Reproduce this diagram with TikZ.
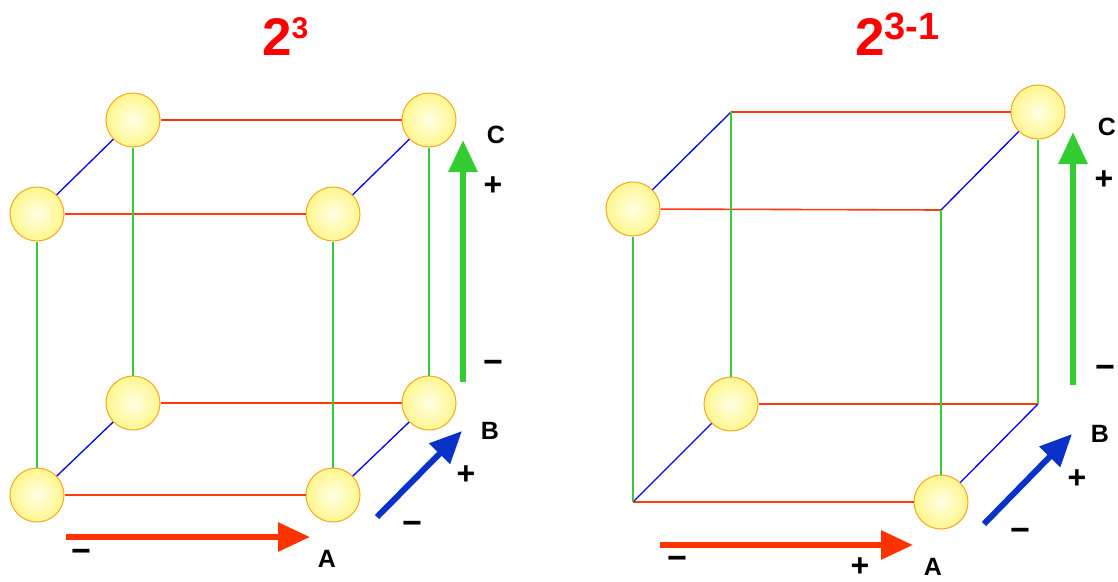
\documentclass[tikz,border=0pt]{standalone}
\usepackage{fontspec}
\setmainfont{Liberation Sans}
\usetikzlibrary{arrows.meta}
\definecolor{edgeA}{HTML}{FF3A10}
\definecolor{edgeB}{HTML}{0000F0}
\definecolor{edgeC}{HTML}{3CC83C}
\definecolor{arrowA}{HTML}{FF3300}
\definecolor{arrowB}{HTML}{0A32C8}
\definecolor{arrowC}{HTML}{33CC33}
\definecolor{ballrim}{HTML}{F5A623}
\definecolor{ballin}{HTML}{FFFFE6}
\definecolor{ballout}{HTML}{FFF68C}
\definecolor{titlered}{HTML}{FF0000}

\begin{document}
\begin{tikzpicture}[
  x=1pt, y=-1pt,
  ball/.style={circle, minimum size=54pt, inner sep=0pt, draw=ballrim,
               line width=1pt, inner color=ballin, outer color=ballout},
  lineA/.style={draw=edgeA, line width=1.6pt},
  lineB/.style={draw=edgeB, line width=1.3pt},
  lineC/.style={draw=edgeC, line width=1.3pt},
  bigarrow/.style={line width=6pt, -{Triangle[length=32pt, width=28pt]}},
  axis/.style={font=\fontsize{25}{25}\selectfont\bfseries, inner sep=0pt},
  sign/.style={font=\fontsize{32}{32}\selectfont\bfseries, inner sep=0pt},
  minus/.style={font=\fontsize{34}{34}\selectfont\bfseries, inner sep=0pt},
  title/.style={font=\fontsize{53}{53}\selectfont\bfseries, text=titlered,
                inner sep=0pt, anchor=base west},
]
\useasboundingbox (0,0) rectangle (1118,581);

% Titles
\node[title] (t1) at (262,55) {2\raisebox{17pt}{\fontsize{30}{30}\selectfont 3}};
\node[title] (t2) at (855,55) {2\raisebox{16pt}{\fontsize{38}{38}\selectfont 3-1}};

% Left cube: full factorial, a ball on every corner
\node[ball] (Lbtl) at (133,120) {};
\node[ball] (Lbtr) at (429,120) {};
\node[ball] (Lftl) at (37,214) {};
\node[ball] (Lftr) at (333,214) {};
\node[ball] (Lbbl) at (133,403) {};
\node[ball] (Lbbr) at (429,403) {};
\node[ball] (Lfbl) at (37,495) {};
\node[ball] (Lfbr) at (333,495) {};

% Right cube: half fraction, four balls
\coordinate (Rbtl) at (731,112);
\node[ball] (Rbtr) at (1038,112) {};
\node[ball] (Rftl) at (633,209) {};
\coordinate (Rftr) at (941,210);
\node[ball] (Rbbl) at (731,404) {};
\coordinate (Rbbr) at (1038,404);
\coordinate (Rfbl) at (633,502);
\node[ball] (Rfbr) at (941,502) {};

% Edges of both cubes
\foreach \s in {L,R} {
  \draw[lineA] (\s btl) -- (\s btr);
  \draw[lineA] (\s ftl) -- (\s ftr);
  \draw[lineA] (\s bbl) -- (\s bbr);
  \draw[lineA] (\s fbl) -- (\s fbr);
  \draw[lineB] (\s ftl) -- (\s btl);
  \draw[lineB] (\s ftr) -- (\s btr);
  \draw[lineB] (\s fbl) -- (\s bbl);
  \draw[lineB] (\s fbr) -- (\s bbr);
  \draw[lineC] (\s btl) -- (\s bbl);
  \draw[lineC] (\s btr) -- (\s bbr);
  \draw[lineC] (\s ftl) -- (\s fbl);
  \draw[lineC] (\s ftr) -- (\s fbr);
}

% Factor arrows, left
\coordinate (LAs) at (66,537);  \coordinate (LAe) at (310,537);
\coordinate (LBs) at (377,517); \coordinate (LBe) at (462,431);
\coordinate (LCs) at (463,382); \coordinate (LCe) at (463,140);
\draw[bigarrow, arrowA] (LAs) -- (LAe);
\draw[bigarrow, arrowB] (LBs) -- (LBe);
\draw[bigarrow, arrowC] (LCs) -- (LCe);

\node[axis] (LA) at (327,559) {A};
\node[minus] (LAm) at (81,556) {−};
\node[axis] (LB) at (490,431) {B};
\node[sign] (LBp) at (466,475) {+};
\node[minus] (LBm) at (412,528) {−};
\node[axis] (LC) at (496,135) {C};
\node[sign] (LCp) at (493,186) {+};
\node[minus] (LCm) at (493,367) {−};

% Factor arrows, right
\coordinate (RAs) at (660,545);  \coordinate (RAe) at (913,545);
\coordinate (RBs) at (984,524);  \coordinate (RBe) at (1072,434);
\coordinate (RCs) at (1073,385); \coordinate (RCe) at (1073,132);
\draw[bigarrow, arrowA] (RAs) -- (RAe);
\draw[bigarrow, arrowB] (RBs) -- (RBe);
\draw[bigarrow, arrowC] (RCs) -- (RCe);

\node[axis] (RA) at (933,567) {A};
\node[minus] (RAm) at (677,563) {−};
\node[sign] (RAp) at (860,567) {+};
\node[axis] (RB) at (1100,434) {B};
\node[sign] (RBp) at (1077,479) {+};
\node[minus] (RBm) at (1020,535) {−};
\node[axis] (RC) at (1107,127) {C};
\node[sign] (RCp) at (1104,180) {+};
\node[minus] (RCm) at (1105,372) {−};
\end{tikzpicture}
\end{document}
